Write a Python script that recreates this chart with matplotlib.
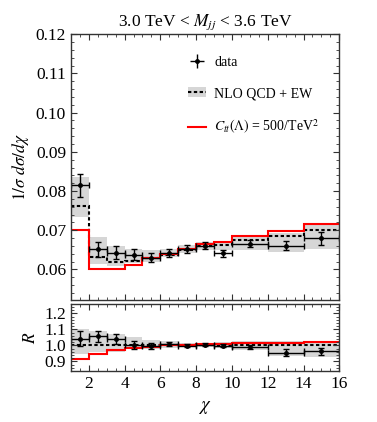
import matplotlib
matplotlib.use('Agg')
import matplotlib.pyplot as plt
import numpy as np
from matplotlib.patches import Patch
from matplotlib.lines import Line2D
from matplotlib.ticker import MultipleLocator

plt.rcParams['font.family'] = ['Liberation Serif', 'DejaVu Serif']
plt.rcParams['mathtext.fontset'] = 'stix'

# chi bins
edges = np.array([1, 2, 3, 4, 5, 6, 7, 8, 9, 10, 12, 14, 16])

# top panel: normalised distribution
data = [0.0815, 0.0651, 0.0643, 0.0637, 0.0630, 0.0642, 0.0653, 0.0660, 0.0641, 0.0666, 0.0661, 0.0679]
data_err = [0.0029, 0.0020, 0.0017, 0.0014, 0.0012, 0.0011, 0.0010, 0.0009, 0.0009, 0.0008, 0.0012, 0.0017]
nlo = [0.0762, 0.0631, 0.0618, 0.0622, 0.0630, 0.0638, 0.0650, 0.0660, 0.0663, 0.0675, 0.0686, 0.0700]
nlo_lo = [0.0733, 0.0613, 0.0610, 0.0617, 0.0619, 0.0632, 0.0642, 0.0650, 0.0650, 0.0650, 0.0645, 0.0652]
nlo_hi = [0.0837, 0.0683, 0.0660, 0.0652, 0.0650, 0.0652, 0.0663, 0.0670, 0.0670, 0.0684, 0.0692, 0.0714]
ctt = [0.0700, 0.0601, 0.0600, 0.0612, 0.0628, 0.0639, 0.0652, 0.0665, 0.0671, 0.0686, 0.0698, 0.0715]

# bottom panel: ratio to NLO
r_data = [1.040, 1.056, 1.040, 1.000, 0.995, 1.010, 0.997, 1.003, 0.998, 0.990, 0.955, 0.962]
r_err = [0.047, 0.035, 0.034, 0.025, 0.018, 0.014, 0.010, 0.010, 0.010, 0.014, 0.020, 0.024]
r_lo = [0.946, 0.956, 0.960, 0.975, 0.975, 0.985, 0.990, 0.990, 0.985, 0.970, 0.935, 0.925]
r_hi = [1.100, 1.090, 1.070, 1.050, 1.035, 1.025, 1.015, 1.015, 1.020, 1.025, 1.025, 1.025]
r_ctt = [0.912, 0.948, 0.969, 0.985, 0.990, 1.000, 1.003, 1.007, 1.010, 1.015, 1.018, 1.022]

centers = 0.5 * (edges[:-1] + edges[1:])
halfw = 0.5 * np.diff(edges)

band_col = '#d6d6d6'
dots = (0, (1.6, 1.2))

fig = plt.figure(figsize=(3.77, 4.22), dpi=100)
ax = fig.add_axes([0.188, 0.289, 0.712, 0.630])
axr = fig.add_axes([0.188, 0.121, 0.712, 0.159], sharex=ax)


def draw(a, val, err, lo, hi, ref, bsm):
    a.stairs(hi, edges, baseline=lo, fill=True, color=band_col, lw=0)
    a.stairs(ref, edges, baseline=None, color='black', lw=1.5, linestyle=dots)
    a.stairs(bsm, edges, baseline=None, color='red', lw=1.5)
    a.errorbar(centers, val, yerr=err, xerr=halfw, fmt='o', color='black',
               ms=2.5, lw=1.0, capsize=2.5, capthick=1.0)


draw(ax, data, data_err, nlo_lo, nlo_hi, nlo, ctt)
draw(axr, r_data, r_err, r_lo, r_hi, np.ones(len(r_data)), r_ctt)

ax.set_xlim(1, 16)
ax.set_ylim(0.0522, 0.12)
axr.set_ylim(0.84, 1.26)

ax.yaxis.set_major_locator(MultipleLocator(0.01))
ax.yaxis.set_minor_locator(MultipleLocator(0.002))
axr.yaxis.set_major_locator(MultipleLocator(0.1))
axr.yaxis.set_minor_locator(MultipleLocator(0.02))
axr.xaxis.set_major_locator(MultipleLocator(2))
axr.xaxis.set_minor_locator(MultipleLocator(0.5))

for a in (ax, axr):
    a.tick_params(which='both', direction='in', top=True, right=True,
                  labelsize=12.5, color='#333333')
    a.tick_params(which='major', length=4, width=0.8)
    a.tick_params(which='minor', length=2, width=0.6)
    for s in a.spines.values():
        s.set_color('#333333')
        s.set_linewidth(1.0)
ax.tick_params(labelbottom=False)
ax.yaxis.set_major_formatter(plt.FormatStrFormatter('%.2f'))
axr.yaxis.set_major_formatter(plt.FormatStrFormatter('%.1f'))

ax.set_title(r'3.0 TeV < $M_{jj}$ < 3.6 TeV', fontsize=12.5, pad=6)
ax.set_ylabel(r'$1/\sigma\ d\sigma/d\chi$', fontsize=12.5, labelpad=3)
axr.set_ylabel(r'$R$', fontsize=12.5, labelpad=4)
axr.set_xlabel(r'$\chi$', fontsize=13.5, labelpad=5)

h_data = ax.errorbar([], [], yerr=[], xerr=[], fmt='o', color='black',
                     ms=2.5, lw=1.0, capsize=2.5)
h_nlo = (Patch(facecolor=band_col, edgecolor='none'),
         Line2D([], [], color='black', lw=1.5, linestyle=dots))
h_ctt = Line2D([], [], color='red', lw=1.5)
ax.legend([h_data, h_nlo, h_ctt],
          ['data', 'NLO QCD + EW', r'$C_{tt}(\Lambda)$ = 500/TeV$^2$'],
          loc='upper left', bbox_to_anchor=(0.39, 0.965), frameon=False,
          fontsize=10, handlelength=1.3, handletextpad=0.6, labelspacing=1.3)

plt.savefig('out.png', dpi=100, facecolor='white')
